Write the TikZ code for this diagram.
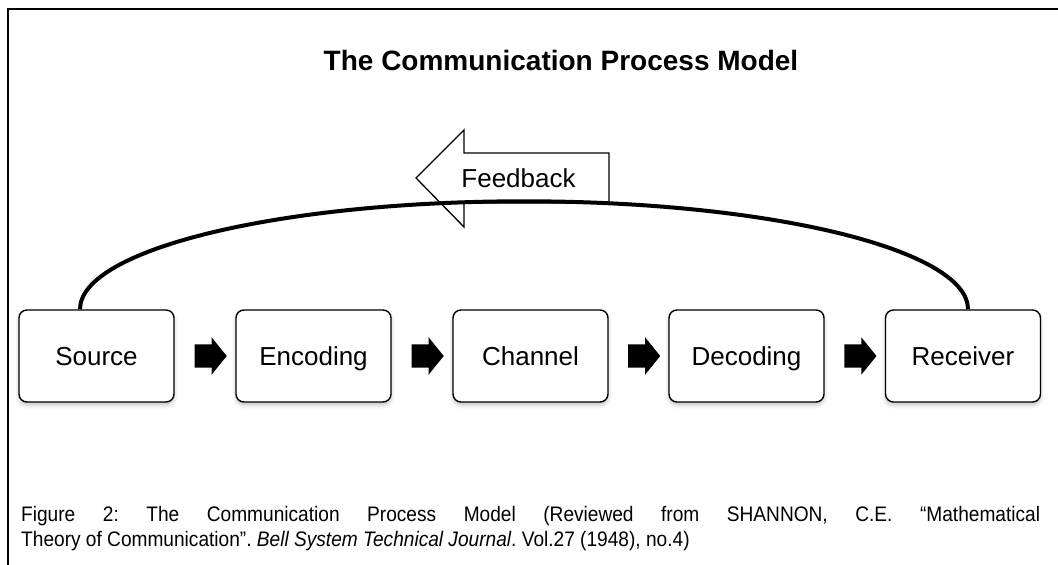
\documentclass[tikz,border=0pt]{standalone}
\usepackage{fontspec}
\setmainfont{Liberation Sans}
\newfontfamily\capfont[FakeStretch=0.91]{Liberation Sans}
\usetikzlibrary{calc,shapes.arrows,shadows.blur}
\begin{document}
\begin{tikzpicture}[x=1pt,y=1pt,
  stagebox/.style={draw=black, line width=1.4pt, rounded corners=8pt, fill=white,
    minimum width=155pt, minimum height=92pt, inner sep=0pt,
    text height=18.6pt, text depth=0pt,
    font=\fontsize{26}{30}\selectfont,
    blur shadow={shadow xshift=0pt, shadow yshift=-3pt, shadow blur radius=4pt, shadow opacity=25}},
  flowarrow/.style={single arrow, fill=black, draw=none, inner xsep=0pt, inner ysep=11.5pt,
    minimum height=32pt, single arrow head extend=7pt, single arrow tip angle=102,
    single arrow head indent=0pt},
  fbshape/.style={draw=black, line width=1.3pt, fill=white},
  fbcurve/.style={draw=black, line width=4pt},
  framestyle/.style={draw=black, line width=2pt}
]
\useasboundingbox (0,0) rectangle (1058,565);
% frame
\draw[framestyle] (8,0) -- (8,556) -- (1058,556);
% title
\node[font=\bfseries\fontsize{28}{32}\selectfont, inner sep=0pt] (title) at (561,504.5) {The Communication Process Model};
% boxes
\node[stagebox] (src) at (96.5,209) {Source};
\node[stagebox] (enc) at (313.5,209) {Encoding};
\node[stagebox] (chn) at (530.5,209) {Channel};
\node[stagebox] (dec) at (746.5,209) {Decoding};
\node[stagebox] (rcv) at (963,209) {Receiver};
% block arrows
\node[flowarrow] (a1) at ($(src.east)!0.5!(enc.west)+(1,0)$) {};
\node[flowarrow] (a2) at ($(enc.east)!0.5!(chn.west)+(1,0)$) {};
\node[flowarrow] (a3) at ($(chn.east)!0.5!(dec.west)+(1,0)$) {};
\node[flowarrow] (a4) at ($(dec.east)!0.5!(rcv.west)+(1,0)$) {};
% feedback arrow
\draw[fbshape] (416,387) -- (464,435) -- (464,412) -- (609,412) -- (609,362) -- (464,362) -- (464,338) -- cycle;
\node[font=\fontsize{26}{30}\selectfont, inner sep=0pt] (fb) at (518.5,387) {Feedback};
% feedback curve
\draw[fbcurve] ([xshift=-16.5pt]src.north) arc[start angle=180, end angle=0, x radius=444pt, y radius=108pt];
% caption
\node[anchor=base west, inner sep=0pt] (cap) at (21,43) {\parbox[t]{1019pt}{\capfont\fontsize{21}{25}\selectfont\frenchspacing\hyphenpenalty=10000\exhyphenpenalty=10000
Figure 2: The Communication Process Model (Reviewed from SHANNON, C.E. “Mathematical\linebreak Theory of Communication”. \textit{Bell System Technical Journal}. Vol.27 (1948), no.4)}};
\end{tikzpicture}
\end{document}
